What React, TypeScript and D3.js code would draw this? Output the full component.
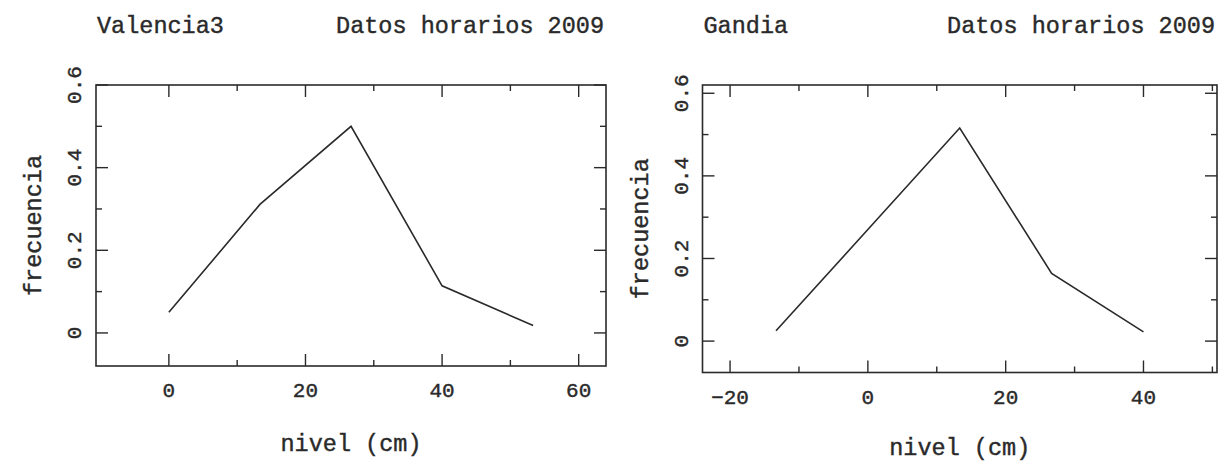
import React from "react";
import * as d3 from "d3";

const valenciaNivel = [0, 13.33, 26.67, 40, 53.33];
const valenciaFrec = [0.05, 0.311, 0.5, 0.114, 0.018];
const gandiaNivel = [-13.33, 0, 13.33, 26.67, 40];
const gandiaFrec = [0.025, 0.27, 0.516, 0.164, 0.0225];

const valenciaXTicks = [0, 20, 40, 60];
const gandiaXTicks = [-20, 0, 20, 40];
const yTicks = [0, 0.2, 0.4, 0.6];
const yTickLabels = ["0", "0.2", "0.4", "0.6"];

const FONT = "'Liberation Mono', 'DejaVu Sans Mono', monospace";
const INK = "#2a2a2a";

type PanelProps = {
  x: number[];
  y: number[];
  xTicks: number[];
  xDomain: [number, number];
  yDomain: [number, number];
  left: number;
  right: number;
  top: number;
  bottom: number;
  station: string;
  xMinor: number[];
  xTitleY: number;
};

const textStyle = {
  fontFamily: FONT,
  fill: INK,
  stroke: INK,
  strokeWidth: 0.4,
} as const;

function Panel(p: PanelProps) {
  const xs = d3.scaleLinear().domain(p.xDomain).range([p.left, p.right]);
  const ys = d3.scaleLinear().domain(p.yDomain).range([p.bottom, p.top]);
  const line = d3
    .line<number>()
    .x((_, i) => xs(p.x[i]))
    .y((d) => ys(d));
  const yMinor = [0.1, 0.3, 0.5];
  const MAJ = 12;
  const MIN = 6;
  const tickLine = (x1: number, y1: number, x2: number, y2: number, k: string) => (
    <line key={k} x1={x1} y1={y1} x2={x2} y2={y2} stroke={INK} strokeWidth={1.4} />
  );
  const cx = (p.left + p.right) / 2;
  const cy = (p.top + p.bottom) / 2;
  return (
    <g>
      <rect
        x={p.left}
        y={p.top}
        width={p.right - p.left}
        height={p.bottom - p.top}
        fill="none"
        stroke={INK}
        strokeWidth={1.6}
      />
      {p.xTicks.map((t, i) => (
        <g key={"xt" + i}>
          {tickLine(xs(t), p.bottom, xs(t), p.bottom - MAJ, "b")}
          {tickLine(xs(t), p.top, xs(t), p.top + MAJ, "t")}
          <text x={xs(t)} y={p.bottom + 31} textAnchor="middle" fontSize={21} {...textStyle}>
            {t < 0 ? "\u2212" + Math.abs(t) : String(t)}
          </text>
        </g>
      ))}
      {p.xMinor.map((t, i) => (
        <g key={"xm" + i}>
          {tickLine(xs(t), p.bottom, xs(t), p.bottom - MIN, "b")}
          {tickLine(xs(t), p.top, xs(t), p.top + MIN, "t")}
        </g>
      ))}
      {yTicks.map((t, i) => (
        <g key={"yt" + i}>
          {tickLine(p.left, ys(t), p.left + MAJ, ys(t), "l")}
          {tickLine(p.right, ys(t), p.right - MAJ, ys(t), "r")}
          <text
            transform={`translate(${p.left - 15},${ys(t)}) rotate(-90)`}
            textAnchor="middle"
            fontSize={21}
            {...textStyle}
          >
            {yTickLabels[i]}
          </text>
        </g>
      ))}
      {yMinor.map((t, i) => (
        <g key={"ym" + i}>
          {tickLine(p.left, ys(t), p.left + MIN, ys(t), "l")}
          {tickLine(p.right, ys(t), p.right - MIN, ys(t), "r")}
        </g>
      ))}
      <path d={line(p.y) || ""} fill="none" stroke={INK} strokeWidth={1.6} />
      <text x={p.left + 1} y={33} fontSize={23.5} {...textStyle}>
        {p.station}
      </text>
      <text x={p.right - 2} y={33} textAnchor="end" fontSize={23.5} {...textStyle}>
        Datos horarios 2009
      </text>
      <text x={cx} y={p.xTitleY} textAnchor="middle" fontSize={23.5} {...textStyle}>
        nivel (cm)
      </text>
      <text
        transform={`translate(${p.left - 55},${cy}) rotate(-90)`}
        textAnchor="middle"
        fontSize={23.5}
        {...textStyle}
      >
        frecuencia
      </text>
    </g>
  );
}

export default function App() {
  return (
    <svg
      width={1221}
      height={461}
      style={{ position: "absolute", left: 0, top: 0, background: "#fff" }}
    >
      <rect x={0} y={0} width={1221} height={461} fill="#fff" />
      <Panel
        x={valenciaNivel}
        y={valenciaFrec}
        xTicks={valenciaXTicks}
        xMinor={[10, 30, 50]}
        xDomain={[-10.67, 64]}
        yDomain={[-0.08, 0.6]}
        left={96}
        right={606}
        top={85}
        bottom={366}
        station="Valencia3"
        xTitleY={451}
      />
      <Panel
        x={gandiaNivel}
        y={gandiaFrec}
        xTicks={gandiaXTicks}
        xMinor={[-10, 10, 30, 50]}
        xDomain={[-24, 50.67]}
        yDomain={[-0.076, 0.62]}
        left={702.5}
        right={1217}
        top={85}
        bottom={372.5}
        station="Gandia"
        xTitleY={455}
      />
    </svg>
  );
}
